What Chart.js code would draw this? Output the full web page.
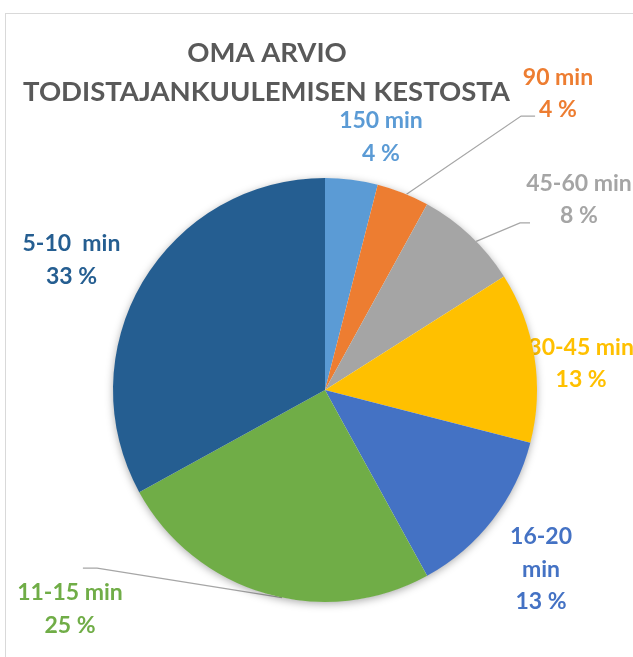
<!DOCTYPE html>
<html><head><meta charset="utf-8">
<script src="https://cdn.jsdelivr.net/npm/chart.js@4"></script>
<style>
html,body{margin:0;padding:0;background:#fff;overflow:hidden}
#wrap{position:relative;width:633px;height:657px;overflow:hidden}
#frame{position:absolute;left:5px;top:13px;width:800px;height:800px;border:1px solid #d9d9d9;box-sizing:border-box}
canvas{position:absolute;left:0;top:0}
</style></head><body>
<div id="wrap"><div id="frame"></div><canvas id="c" width="633" height="657"></canvas></div>
<script>
const categories = ['150 min', '90 min', '45-60 min', '30-45 min', '16-20 min', '11-15 min', '5-10  min'];
const values = [4, 4, 8, 13, 13, 25, 33];
const colors = ['#5B9BD5', '#ED7D31', '#A5A5A5', '#FFC000', '#4472C4', '#70AD47', '#255E91'];
const valueLabels = values.map(v => v + ' %');
const titleLines = ['OMA ARVIO', 'TODISTAJANKUULEMISEN KESTOSTA'];

// label placement (fractions of the pie radius, relative to the pie centre)
const labelStyle = [
  {fx: 0.264, fy: -1.193},
  {fx: 1.099, fy: -1.399, leader: {elbow: [0.925, -1.292], end: [0.991, -1.292], startFrac: 0.57}},
  {fx: 1.198, fy: -0.899, leader: {elbow: [0.920, -0.788], end: [0.967, -0.788], startFrac: 0.58}},
  {fx: 1.208, fy: -0.125},
  {fx: 1.019, fy: 0.847, wrap: true},
  {fx: -1.203, fy: 1.033, leader: {elbow: [-1.075, 0.840], end: [-1.142, 0.840], startFrac: 0.45}},
  {fx: -1.196, fy: -0.613}
];

const FONT = 'Lato, "Open Sans", sans-serif';

const titlePlugin = {
  id: 'titleText',
  afterDraw(chart) {
    const ctx = chart.ctx;
    ctx.save();
    ctx.fillStyle = '#595959';
    ctx.font = 'bold 27.5px ' + FONT;
    ctx.textAlign = 'center';
    ctx.textBaseline = 'middle';
    ctx.fillText(titleLines[0], 267, 53);
    ctx.fillText(titleLines[1], 266.5, 92.5);
    ctx.restore();
  }
};

const labelsPlugin = {
  id: 'sliceLabels',
  beforeDatasetsDraw(chart) {
    const ctx = chart.ctx;
    const meta = chart.getDatasetMeta(0);
    ctx.save();
    meta.data.forEach((arc, i) => {
      const st = labelStyle[i];
      const cx = arc.x, cy = arc.y, r = arc.outerRadius;
      if (st.leader) {
        const a = arc.startAngle + (arc.endAngle - arc.startAngle) * st.leader.startFrac;
        const sx = cx + Math.cos(a) * r, sy = cy + Math.sin(a) * r;
        ctx.strokeStyle = '#a6a6a6';
        ctx.lineWidth = 1.2;
        ctx.beginPath();
        ctx.moveTo(sx, sy);
        ctx.lineTo(cx + st.leader.elbow[0] * r, cy + st.leader.elbow[1] * r);
        ctx.lineTo(cx + st.leader.end[0] * r, cy + st.leader.end[1] * r);
        ctx.stroke();
      }
      let lines = [];
      const cat = chart.data.labels[i];
      if (st.wrap) {
        const idx = cat.lastIndexOf(' ');
        lines.push(cat.slice(0, idx), cat.slice(idx + 1));
      } else lines.push(cat);
      lines.push(valueLabels[i]);
      const lh = 32.5;
      const x = cx + st.fx * r, y = cy + st.fy * r;
      const y0 = y - (lines.length - 1) * lh / 2;
      ctx.fillStyle = colors[i];
      ctx.font = 'bold 23px ' + FONT;
      ctx.textAlign = 'center';
      ctx.textBaseline = 'middle';
      lines.forEach((t, k) => ctx.fillText(t, x, y0 + k * lh));
    });
    const a0 = meta.data[0];
    ctx.shadowColor = 'rgba(0,0,0,0.35)';
    ctx.shadowBlur = 9;
    ctx.shadowOffsetX = 0;
    ctx.shadowOffsetY = 2;
    ctx.fillStyle = '#ffffff';
    ctx.beginPath();
    ctx.arc(a0.x, a0.y, a0.outerRadius - 0.5, 0, Math.PI * 2);
    ctx.fill();
    ctx.restore();
  }
};

new Chart(document.getElementById('c'), {
  type: 'pie',
  data: {
    labels: categories,
    datasets: [{
      data: values,
      backgroundColor: colors,
      borderWidth: 0
    }]
  },
  options: {
    responsive: false,
    animation: false,
    layout: {padding: {left: 113, right: 96, top: 178, bottom: 55}},
    plugins: {legend: {display: false}, tooltip: {enabled: false}, title: {display: false}}
  },
  plugins: [labelsPlugin, titlePlugin]
});
</script>
</body></html>
